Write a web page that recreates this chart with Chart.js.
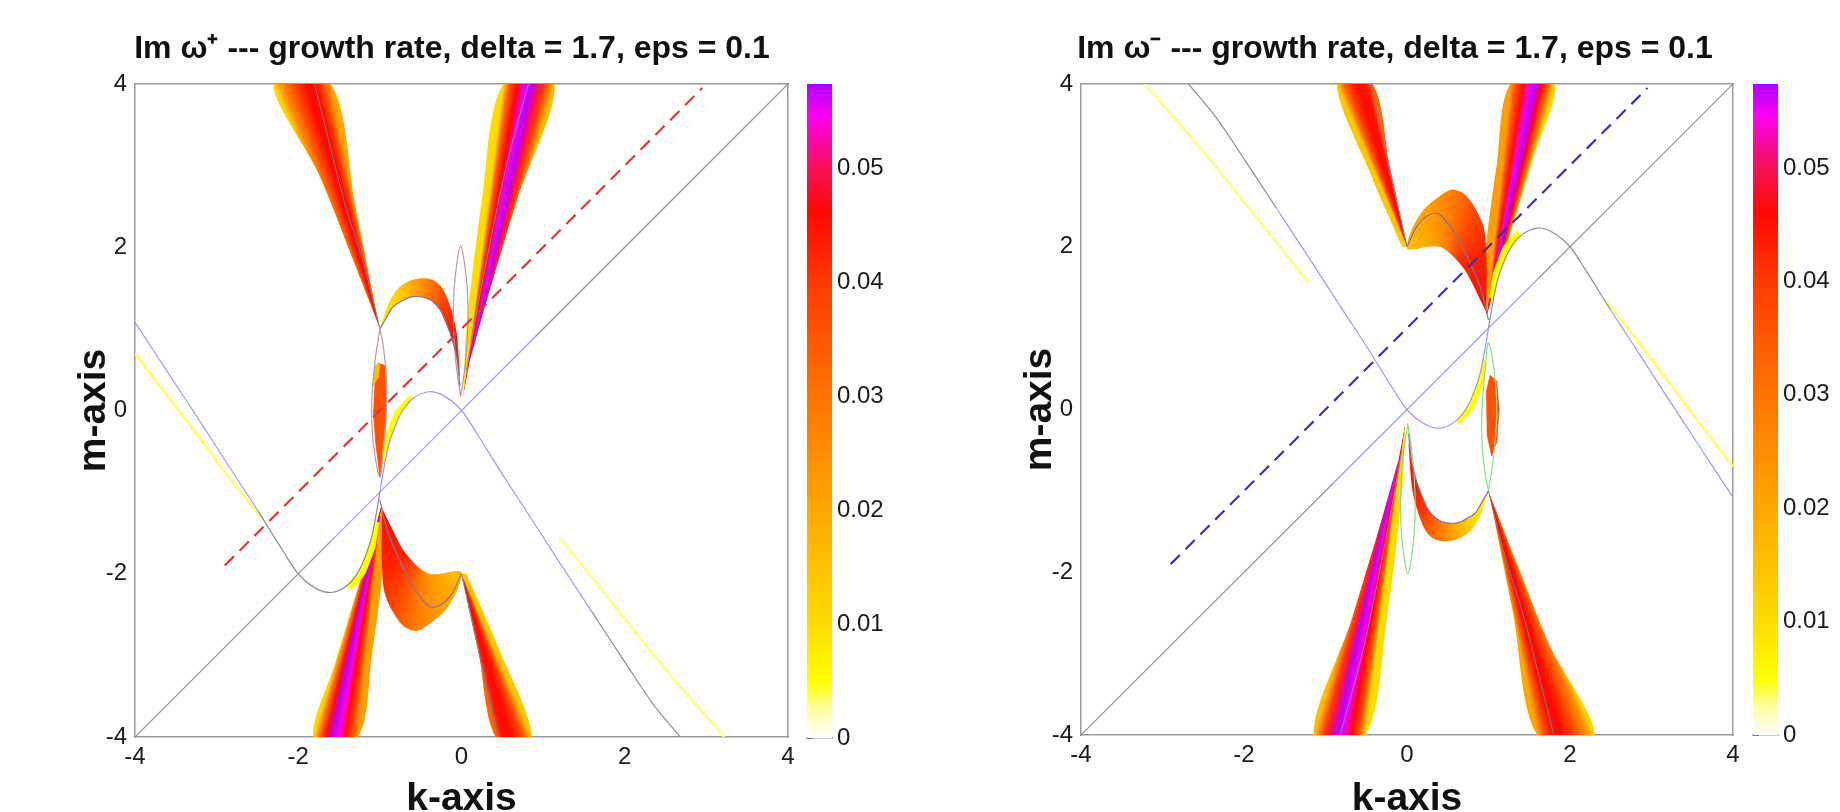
<!DOCTYPE html>
<html lang="en">
<head>
<meta charset="utf-8" />
<title>Im omega growth rate, delta = 1.7, eps = 0.1</title>
<style>
  body { margin: 0; background: #fff; }
  #wrap { position: relative; width: 1840px; height: 812px; overflow: hidden; background: #fff; }
  canvas { position: absolute; top: 0; }
</style>
</head>
<body>
<div id="wrap">
  <canvas id="plusChart" width="904" height="830" style="left:0px"></canvas>
  <canvas id="plusBar" width="110" height="812" style="left:800px"></canvas>
  <canvas id="minusChart" width="910" height="830" style="left:940px"></canvas>
  <canvas id="minusBar" width="110" height="812" style="left:1746px"></canvas>
</div>
<script src="https://cdn.jsdelivr.net/npm/chart.js@4.4.1/dist/chart.umd.min.js"></script>
<script>
// ---- colour bar values ----
const cbMax = 0.0574;
const cbTicks = [0, 0.01, 0.02, 0.03, 0.04, 0.05];

// ---- shared lines, [k, m] ----
const dashLine = [[-2.9, -1.9], [2.95, 3.95]];
const plusDiag = [[-4, -4], [-1.6, -1.6], [0.9, 0.9], [4, 4]];
const minusDiag = [[-4, -4], [-0.9, -0.9], [1.6, 1.6], [4, 4]];

// ---- Im w+ panel ----
const plusBell = [[-4,1.08],[-3.6,0.47],[-3.2,-0.14],[-2.8,-0.76],[-2.5,-1.22],[-2.2,-1.7],[-2.0,-2.0],[-1.8,-2.17],[-1.6,-2.23],[-1.4,-2.14],[-1.25,-1.95],[-1.12,-1.62],[-1.06,-1.35],[-1,-1],[-0.94,-0.65],[-0.88,-0.38],[-0.75,-0.05],[-0.6,0.14],[-0.4,0.23],[-0.2,0.17],[0,0],[0.2,-0.3],[0.5,-0.78],[0.8,-1.24],[1.2,-1.86],[1.6,-2.47],[2,-3.08],[2.35,-3.6],[2.68,-4]];
const plusBellGray = [[-2.5, -1.0], [1.6, 2.7]];
const plusDiagBlue = [[-1.6, 0.9]];
const plusYellowL = [[-4,0.7],[-3.6,0.18],[-3.2,-0.35],[-2.8,-0.88],[-2.45,-1.32]];
const plusYellowR = [[1.2,-1.55],[1.6,-2.05],[2.0,-2.55],[2.4,-3.05],[2.8,-3.52],[3.22,-4]];

// bands: outline, centre of the colour sweep, growth-rate profile [k, m, value]
const plusTL = [[-1,1],[-1.35,1.9],[-1.75,2.9],[-2.3,4],[-1.6,4],[-1.3,2.5],[-1.1,1.5]];
const plusTLc = [-1, 1];
const plusTLv = [[-2.3,4,0.012],[-2.2,4,0.026],[-2.05,4,0.038],[-1.9,4,0.046],[-1.78,4,0.045],[-1.68,4,0.035],[-1.6,4,0.02]];
const plusTLline = [[-1,1],[-1.2,1.8],[-1.42,2.5],[-1.6,3.2],[-1.8,4]];

const plusTR = [[0.02,0.17],[0.06,1.0],[0.25,2.58],[0.51,4],[1.14,4],[0.68,2.58],[0.31,1.35],[0.1,0.6]];
const plusTRc = [0.02, 0.17];
const plusTRv = [[0.51,4,0.01],[0.58,4,0.034],[0.68,4,0.046],[0.78,4,0.055],[0.86,4,0.057],[0.94,4,0.05],[1.02,4,0.04],[1.14,4,0.016]];
const plusTRline = [[0.06,0.5],[0.3,1.8],[0.55,3],[0.82,4]];

const plusA1 = [[-1,1],[-0.9,1.3],[-0.79,1.48],[-0.65,1.58],[-0.5,1.62],[-0.35,1.6],[-0.25,1.52],[-0.18,1.39],[-0.1,1.15],[-0.06,0.95],[-0.03,0.6],[-0.02,0.41],[-0.04,0.5],[-0.06,0.66],[-0.1,0.82],[-0.14,0.95],[-0.2,1.1],[-0.26,1.23],[-0.36,1.34],[-0.47,1.39],[-0.63,1.39],[-0.75,1.33],[-0.84,1.27],[-0.93,1.12]];
const plusA1c = [-0.5, 0.95];
const plusA1v = [[-1,1,0.006],[-0.85,1.45,0.011],[-0.6,1.6,0.02],[-0.35,1.6,0.03],[-0.15,1.35,0.04],[-0.05,0.9,0.045],[-0.03,0.5,0.043]];
const plusArch = [[-1,1],[-0.93,1.12],[-0.84,1.27],[-0.75,1.33],[-0.63,1.39],[-0.47,1.39],[-0.36,1.34],[-0.26,1.23],[-0.2,1.1],[-0.14,0.95],[-0.1,0.82],[-0.06,0.66],[-0.04,0.5],[-0.02,0.3]];

const plusLens1 = [[-0.01,0.17],[-0.07,0.6],[-0.1,1.1],[-0.09,1.5],[-0.05,1.85],[-0.01,2.02],[0.03,1.85],[0.07,1.5],[0.08,1.1],[0.05,0.6],[-0.01,0.17]];
const plusLens2 = [[-1,1],[-1.06,0.6],[-1.1,0.1],[-1.08,-0.4],[-1.0,-0.82],[-0.96,-0.5],[-0.92,0.0],[-0.92,0.4],[-0.96,0.8],[-1,1]];
const plusLensFill = [[-1.06,0.45],[-1.02,0.58],[-0.94,0.55],[-0.92,0.1],[-0.94,-0.3],[-1.0,-0.8],[-1.05,-0.4],[-1.08,0.0]];
const plusLensTop = [[-1.08,0.3],[-1.06,0.55],[-1.0,0.58],[-1.02,0.4]];
const plusSliver1 = [[-0.94,-0.65],[-0.88,-0.38],[-0.75,-0.05],[-0.6,0.14],[-0.64,0.18],[-0.81,0.0],[-0.94,-0.33],[-0.97,-0.55]];
const plusSliver2 = [[-1.4,-2.14],[-1.25,-1.95],[-1.12,-1.62],[-1.06,-1.35],[-1.01,-1.38],[-1.06,-1.68],[-1.18,-2.0],[-1.35,-2.2]];

const plusBL = [[-0.98,-1.15],[-1.25,-2.1],[-1.55,-3.1],[-1.81,-4],[-1.27,-4],[-1.1,-3.0],[-0.97,-2.0],[-0.95,-1.4]];
const plusBLc = [-0.98, -1.15];
const plusBLv = [[-1.81,-4,0.012],[-1.74,-4,0.032],[-1.66,-4,0.047],[-1.58,-4,0.057],[-1.5,-4,0.054],[-1.42,-4,0.045],[-1.34,-4,0.037],[-1.27,-4,0.022]];

const plusA2 = [[-0.97,-1.2],[-0.85,-1.45],[-0.72,-1.7],[-0.55,-1.9],[-0.4,-2.0],[-0.25,-2.0],[-0.1,-1.97],[0.0,-1.98],[-0.05,-2.2],[-0.2,-2.45],[-0.4,-2.62],[-0.55,-2.7],[-0.7,-2.65],[-0.85,-2.45],[-0.95,-2.2],[-0.98,-1.7]];
const plusA2c = [-0.45, -1.6];
const plusA2v = [[-0.97,-1.3,0.045],[-1.0,-2.0,0.043],[-0.85,-2.45,0.038],[-0.55,-2.7,0.028],[-0.25,-2.5,0.022],[0,-2.05,0.016]];
const plusArch2 = [[-1,-1.1],[-0.9,-1.5],[-0.75,-1.85],[-0.6,-2.15],[-0.45,-2.35],[-0.37,-2.41],[-0.25,-2.38],[-0.12,-2.25],[0,-2.0]];

const plusBR = [[0,-2],[0.2,-2.9],[0.42,-4],[0.86,-4],[0.45,-2.9],[0.06,-2.0]];
const plusBRc = [0, -2];
const plusBRv = [[0.42,-4,0.032],[0.5,-4,0.045],[0.6,-4,0.046],[0.7,-4,0.041],[0.78,-4,0.032],[0.86,-4,0.014]];
const plusBRline = [[0,-2],[0.22,-3.0],[0.45,-4]];

// ---- Im w- panel ----
const minusBell = [[-2.68,4],[-2.35,3.6],[-2,3.08],[-1.6,2.47],[-1.2,1.86],[-0.8,1.24],[-0.5,0.78],[-0.2,0.3],[0,0],[0.2,-0.17],[0.4,-0.23],[0.6,-0.14],[0.75,0.05],[0.88,0.38],[0.94,0.65],[1,1],[1.06,1.35],[1.12,1.62],[1.25,1.95],[1.4,2.14],[1.6,2.23],[1.8,2.17],[2,2],[2.2,1.7],[2.5,1.22],[2.8,0.76],[3.2,0.14],[3.6,-0.47],[4,-1.08]];
const minusBellGray = [[-2.7, -1.6], [1.0, 2.5]];
const minusDiagBlue = [[-0.9, 1.6]];
const minusYellowR = [[4,-0.7],[3.6,-0.18],[3.2,0.35],[2.8,0.88],[2.45,1.32]];
const minusYellowL = [[-1.2,1.55],[-1.6,2.05],[-2.0,2.55],[-2.4,3.05],[-2.8,3.52],[-3.22,4]];

const minusBR = [[1,-1],[1.35,-1.9],[1.75,-2.9],[2.3,-4],[1.6,-4],[1.3,-2.5],[1.1,-1.5]];
const minusBRc = [1, -1];
const minusBRv = [[2.3,-4,0.012],[2.2,-4,0.026],[2.05,-4,0.038],[1.9,-4,0.046],[1.78,-4,0.045],[1.68,-4,0.035],[1.6,-4,0.02]];
const minusBRline = [[1,-1],[1.2,-1.8],[1.42,-2.5],[1.6,-3.2],[1.8,-4]];

const minusBL = [[-0.02,-0.17],[-0.06,-1.0],[-0.25,-2.58],[-0.51,-4],[-1.14,-4],[-0.68,-2.58],[-0.31,-1.35],[-0.1,-0.6]];
const minusBLc = [-0.02, -0.17];
const minusBLv = [[-0.51,-4,0.01],[-0.58,-4,0.034],[-0.68,-4,0.046],[-0.78,-4,0.055],[-0.86,-4,0.057],[-0.94,-4,0.05],[-1.02,-4,0.04],[-1.14,-4,0.016]];
const minusBLline = [[-0.06,-0.5],[-0.3,-1.8],[-0.55,-3],[-0.82,-4]];

const minusA1 = [[1,-1],[0.9,-1.3],[0.79,-1.48],[0.65,-1.58],[0.5,-1.62],[0.35,-1.6],[0.25,-1.52],[0.18,-1.39],[0.1,-1.15],[0.06,-0.95],[0.03,-0.6],[0.02,-0.41],[0.04,-0.5],[0.06,-0.66],[0.1,-0.82],[0.14,-0.95],[0.2,-1.1],[0.26,-1.23],[0.36,-1.34],[0.47,-1.39],[0.63,-1.39],[0.75,-1.33],[0.84,-1.27],[0.93,-1.12]];
const minusA1c = [0.5, -0.95];
const minusA1v = [[1,-1,0.006],[0.85,-1.45,0.011],[0.6,-1.6,0.02],[0.35,-1.6,0.03],[0.15,-1.35,0.04],[0.05,-0.9,0.045],[0.03,-0.5,0.043]];
const minusArch = [[1,-1],[0.93,-1.12],[0.84,-1.27],[0.75,-1.33],[0.63,-1.39],[0.47,-1.39],[0.36,-1.34],[0.26,-1.23],[0.2,-1.1],[0.14,-0.95],[0.1,-0.82],[0.06,-0.66],[0.04,-0.5],[0.02,-0.3]];

const minusLens1 = [[0.01,-0.17],[0.07,-0.6],[0.1,-1.1],[0.09,-1.5],[0.05,-1.85],[0.01,-2.02],[-0.03,-1.85],[-0.07,-1.5],[-0.08,-1.1],[-0.05,-0.6],[0.01,-0.17]];
const minusLens2 = [[1,-1],[1.06,-0.6],[1.1,-0.1],[1.08,0.4],[1.0,0.82],[0.96,0.5],[0.92,0.0],[0.92,-0.4],[0.96,-0.8],[1,-1]];
const minusLensFill = [[0.97,0.2],[1.02,0.42],[1.1,0.35],[1.13,0.0],[1.1,-0.4],[1.04,-0.57],[0.98,-0.3]];
const minusSliver1 = [[0.94,0.65],[0.88,0.38],[0.75,0.05],[0.6,-0.14],[0.64,-0.18],[0.81,0.0],[0.94,0.33],[0.97,0.55]];
const minusSliver2 = [[1.4,2.14],[1.25,1.95],[1.12,1.62],[1.06,1.35],[1.01,1.38],[1.06,1.68],[1.18,2.0],[1.35,2.2]];

const minusTR = [[0.98,1.15],[1.25,2.1],[1.55,3.1],[1.81,4],[1.27,4],[1.1,3.0],[0.97,2.0],[0.95,1.4]];
const minusTRc = [0.98, 1.15];
const minusTRv = [[1.81,4,0.012],[1.74,4,0.032],[1.66,4,0.047],[1.58,4,0.057],[1.5,4,0.054],[1.42,4,0.045],[1.34,4,0.037],[1.27,4,0.022]];

const minusA2 = [[0.97,1.2],[0.85,1.45],[0.72,1.7],[0.55,1.9],[0.4,2.0],[0.25,2.0],[0.1,1.97],[0.0,1.98],[0.05,2.2],[0.2,2.45],[0.4,2.62],[0.55,2.7],[0.7,2.65],[0.85,2.45],[0.95,2.2],[0.98,1.7]];
const minusA2c = [0.45, 1.6];
const minusA2v = [[0.97,1.3,0.045],[1.0,2.0,0.043],[0.85,2.45,0.038],[0.55,2.7,0.028],[0.25,2.5,0.022],[0,2.05,0.016]];
const minusArch2 = [[1,1.1],[0.9,1.5],[0.75,1.85],[0.6,2.15],[0.45,2.35],[0.37,2.41],[0.25,2.38],[0.12,2.25],[0,2.0]];

const minusTL = [[0,2],[-0.2,2.9],[-0.42,4],[-0.86,4],[-0.45,2.9],[-0.06,2.0]];
const minusTLc = [0, 2];
const minusTLv = [[-0.42,4,0.032],[-0.5,4,0.045],[-0.6,4,0.046],[-0.7,4,0.041],[-0.78,4,0.032],[-0.86,4,0.014]];
const minusTLline = [[0,2],[-0.22,3.0],[-0.45,4]];

// ---- styling ----
Chart.defaults.font.family = "'Liberation Sans', Arial, Helvetica, sans-serif";
const cmapStops = [[0,'#ffffff'],[0.0025,'#ffffa0'],[0.005,'#ffff00'],[0.01,'#ffdc00'],[0.02,'#ffa800'],[0.03,'#ff7400'],[0.04,'#ff3a00'],[0.046,'#ff0800'],[0.05,'#f51055'],[0.0545,'#ff00f0'],[0.0574,'#b000ff']];
const BLUE = '#9a9af2', GRAY = '#8e8e98', ARCH = '#857499', FRAME = '#9a9a9a';

function hex(c) { return [1, 3, 5].map(i => parseInt(c.slice(i, i + 2), 16)); }
function cmap(v) {
  for (let i = 1; i < cmapStops.length; i++) {
    const [v0, c0] = cmapStops[i - 1], [v1, c1] = cmapStops[i];
    if (v <= v1) {
      const t = (v - v0) / (v1 - v0), a = hex(c0), b = hex(c1);
      return 'rgb(' + a.map((x, j) => Math.round(x + (b[j] - x) * t)).join(',') + ')';
    }
  }
  return cmapStops[cmapStops.length - 1][1];
}
const xy = a => a.map(([x, y]) => ({x, y}));
const inRanges = (x, r) => r.some(([a, b]) => x >= a && x <= b);

// flat filled outline
function poly(a, v) {
  const c = cmap(v);
  return {data: xy(a), showLine: true, fill: 'shape', backgroundColor: c, borderColor: c,
          borderWidth: 0.8, pointRadius: 0, tension: 0};
}
// outline filled with a conic sweep of the growth-rate profile around centre
function band(a, centre, profile) {
  return {data: xy(a), showLine: true, fill: 'shape', borderWidth: 0, borderColor: 'rgba(0,0,0,0)',
    pointRadius: 0, tension: 0.3,
    backgroundColor: c => {
      const ch = c.chart, sx = ch.scales.x, sy = ch.scales.y;
      if (!ch.chartArea || !sx) return cmap(profile[0][2]);
      const cx = sx.getPixelForValue(centre[0]), cy = sy.getPixelForValue(centre[1]);
      const ang = profile.map(([k, m]) => Math.atan2(sy.getPixelForValue(m) - cy, sx.getPixelForValue(k) - cx));
      const mean = Math.atan2(ang.reduce((s, t) => s + Math.sin(t), 0), ang.reduce((s, t) => s + Math.cos(t), 0));
      const start = mean - Math.PI, TWO = 2 * Math.PI;
      const g = ch.ctx.createConicGradient(start, cx, cy);
      profile.forEach(([, , v], i) => {
        const f = (((ang[i] - start) % TWO) + TWO) % TWO / TWO;
        g.addColorStop(f, cmap(v));
      });
      return g;
    }};
}
function curve(a, color, w, more) {
  return Object.assign({data: xy(a), showLine: true, fill: false, borderColor: color,
          borderWidth: w, pointRadius: 0, tension: 0.35}, more || {});
}
function twoTone(a, ranges, inColor, outColor, w) {
  return curve(a, outColor, w, {segment: {borderColor: c =>
    inRanges((c.p0.parsed.x + c.p1.parsed.x) / 2, ranges) ? inColor : outColor}});
}

function mainChart(id, title, yW, rightW, bottomH, yTitlePad, sets) {
  const tick = {font: {size: 24}, color: '#1a1a1a'};
  const axTitle = t => ({display: true, text: t, color: '#111', font: {size: 39, weight: 'bold'}});
  const noGrid = {display: false, drawTicks: false};
  return new Chart(document.getElementById(id), {
    type: 'scatter',
    data: {datasets: sets.slice().reverse()},
    options: {
      responsive: false, animation: false, events: [],
      plugins: {
        legend: {display: false}, tooltip: {enabled: false},
        title: {display: true, text: title, color: '#111', font: {size: 32, weight: 'bold'},
                padding: {top: 30, bottom: 15.6}}
      },
      scales: {
        x: {type: 'linear', min: -4, max: 4, ticks: Object.assign({stepSize: 2, padding: 6}, tick),
            grid: noGrid, border: {color: FRAME, width: 1.5},
            title: Object.assign(axTitle('k-axis'), {padding: {top: 0, bottom: 7}}),
            afterFit: s => { s.height = bottomH; }},
        y: {type: 'linear', min: -4, max: 4, ticks: Object.assign({stepSize: 2, padding: 8}, tick),
            grid: noGrid, border: {color: FRAME, width: 1.5},
            title: Object.assign(axTitle('m-axis'), {padding: {top: yTitlePad, bottom: 0}}),
            afterFit: s => { s.width = yW; }},
        x2: {type: 'linear', position: 'top', min: -4, max: 4, ticks: {display: false},
             grid: noGrid, border: {color: FRAME, width: 1.5}, afterFit: s => { s.height = 0; }},
        y2: {type: 'linear', position: 'right', min: -4, max: 4, ticks: {display: false},
             grid: noGrid, border: {color: FRAME, width: 1.5}, afterFit: s => { s.width = rightW; }}
      }
    }
  });
}

function colorBar(id, bottomPad) {
  const setTicks = s => { s.ticks = cbTicks.map(v => ({value: v})); };
  return new Chart(document.getElementById(id), {
    type: 'bar',
    data: {labels: [''], datasets: [{data: [cbMax], barPercentage: 1, categoryPercentage: 1, borderWidth: 0,
      backgroundColor: c => {
        const a = c.chart.chartArea;
        if (!a) return '#ffa800';
        const g = c.chart.ctx.createLinearGradient(0, a.bottom, 0, a.top);
        cmapStops.forEach(([v, col]) => g.addColorStop(v / cbMax, col));
        return g;
      }}]},
    options: {
      responsive: false, animation: false, events: [],
      layout: {padding: {left: 7, top: 84, bottom: bottomPad, right: 0}},
      plugins: {legend: {display: false}, tooltip: {enabled: false}},
      scales: {
        x: {ticks: {display: false}, grid: {display: false, drawTicks: false}, border: {color: FRAME, width: 1.5},
            afterFit: s => { s.height = 0; }},
        y: {position: 'right', min: 0, max: cbMax, afterBuildTicks: setTicks,
            ticks: {font: {size: 24}, color: '#1a1a1a', padding: 5, callback: v => v === 0 ? '0' : v.toFixed(2)},
            grid: {display: false, drawTicks: false}, border: {display: false}, afterFit: s => { s.width = 78; }},
        yMarks: {position: 'left', min: 0, max: cbMax, afterBuildTicks: setTicks,
            ticks: {display: false},
            grid: {display: true, drawOnChartArea: false, drawTicks: true, tickLength: -6, color: '#555', lineWidth: 1},
            border: {display: false}, afterFit: s => { s.width = 0; }}
      }
    }
  });
}

const plusSets = [
  twoTone(plusDiag, plusDiagBlue, BLUE, GRAY, 1.2),
  curve(plusYellowL, '#ffff66', 2.5), curve(plusYellowR, '#ffff80', 2.5),
  band(plusTL, plusTLc, plusTLv), band(plusTR, plusTRc, plusTRv), band(plusA1, plusA1c, plusA1v),
  band(plusBL, plusBLc, plusBLv), band(plusA2, plusA2c, plusA2v), band(plusBR, plusBRc, plusBRv),
  poly(plusLensFill, 0.036), poly(plusLensTop, 0.016),
  poly(plusSliver1, 0.005), poly(plusSliver2, 0.005),
  curve(plusLens1, '#b99aa8', 1.2), curve(plusLens2, '#b99aa8', 1.2),
  curve(plusTLline, ARCH, 1), curve(plusTRline, '#9a7fc0', 1), curve(plusBRline, ARCH, 1),
  curve(plusArch, ARCH, 1.2), curve(plusArch2, ARCH, 1.2),
  twoTone(plusBell, plusBellGray, GRAY, BLUE, 1.2),
  curve(dashLine, '#d83a3a', 2.2, {borderDash: [13, 8], tension: 0})
];

const minusSets = [
  twoTone(minusDiag, minusDiagBlue, BLUE, GRAY, 1.2),
  curve(minusYellowL, '#ffff80', 2.5), curve(minusYellowR, '#ffff66', 2.5),
  band(minusBR, minusBRc, minusBRv), band(minusBL, minusBLc, minusBLv), band(minusA1, minusA1c, minusA1v),
  band(minusTR, minusTRc, minusTRv), band(minusA2, minusA2c, minusA2v), band(minusTL, minusTLc, minusTLv),
  poly(minusLensFill, 0.036),
  poly(minusSliver1, 0.005), poly(minusSliver2, 0.005),
  curve(minusLens1, '#8cdc8c', 1.2), curve(minusLens2, '#8cdc8c', 1.2),
  curve(minusBRline, ARCH, 1), curve(minusBLline, '#9a7fc0', 1), curve(minusTLline, ARCH, 1),
  curve(minusArch, ARCH, 1.2), curve(minusArch2, ARCH, 1.2),
  twoTone(minusBell, minusBellGray, GRAY, BLUE, 1.2),
  curve(dashLine, '#3434b4', 2.2, {borderDash: [13, 8], tension: 0})
];

mainChart('plusChart', 'Im \u03c9\u207a --- growth rate, delta = 1.7, eps = 0.1', 135, 116, 93, 71, plusSets);
mainChart('minusChart', 'Im \u03c9\u207b --- growth rate, delta = 1.7, eps = 0.1', 141, 117, 95, 77, minusSets);
colorBar('plusBar', 74);
colorBar('minusBar', 77);
</script>
</body>
</html>
